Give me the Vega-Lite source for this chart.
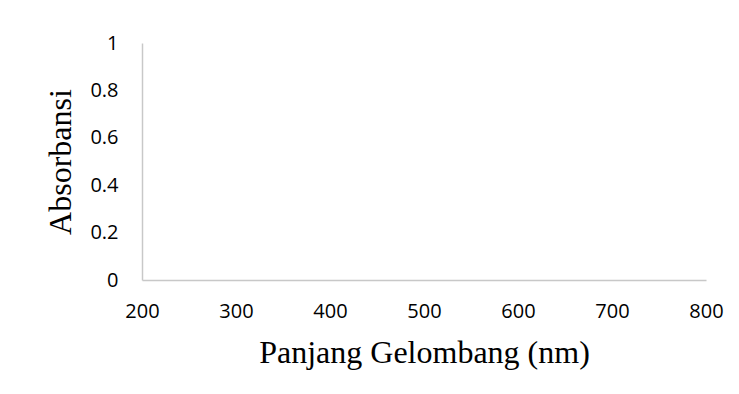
{
  "$schema": "https://vega.github.io/schema/vega-lite/v6.json",
  "autosize": "none",
  "width": 564,
  "height": 237,
  "padding": {"left": 142, "top": 43, "right": 33, "bottom": 114},
  "background": "white",
  "config": {"view": {"stroke": null}},
  "data": {"values": []},
  "mark": {"type": "line"},
  "encoding": {
    "x": {
      "field": "wavelength",
      "type": "quantitative",
      "scale": {"domain": [200, 800], "nice": false, "zero": false},
      "axis": {
        "values": [200, 300, 400, 500, 600, 700, 800],
        "format": "d",
        "title": "Panjang Gelombang (nm)",
        "titleFont": "Liberation Serif",
        "titleFontSize": 32,
        "titleFontWeight": "normal",
        "titleColor": "black",
        "titlePadding": 16,
        "labelFont": "Open Sans",
        "labelFontSize": 20,
        "labelColor": "black",
        "labelPadding": 21,
        "labelFlush": false,
        "labelOverlap": false,
        "ticks": false,
        "tickSize": 0,
        "grid": false,
        "domainColor": "#c8c8c8",
        "domainWidth": 1.5
      }
    },
    "y": {
      "field": "absorbance",
      "type": "quantitative",
      "scale": {"domain": [0, 1], "nice": false},
      "axis": {
        "values": [0, 0.2, 0.4, 0.6, 0.8, 1],
        "format": "~g",
        "title": "Absorbansi",
        "titleFont": "Liberation Serif",
        "titleFontSize": 32,
        "titleFontWeight": "normal",
        "titleColor": "black",
        "titlePadding": 12,
        "labelFont": "Open Sans",
        "labelFontSize": 20,
        "labelColor": "black",
        "labelPadding": 24,
        "labelFlush": false,
        "labelOverlap": false,
        "ticks": false,
        "tickSize": 0,
        "grid": false,
        "domainColor": "#c8c8c8",
        "domainWidth": 1.5
      }
    }
  }
}
